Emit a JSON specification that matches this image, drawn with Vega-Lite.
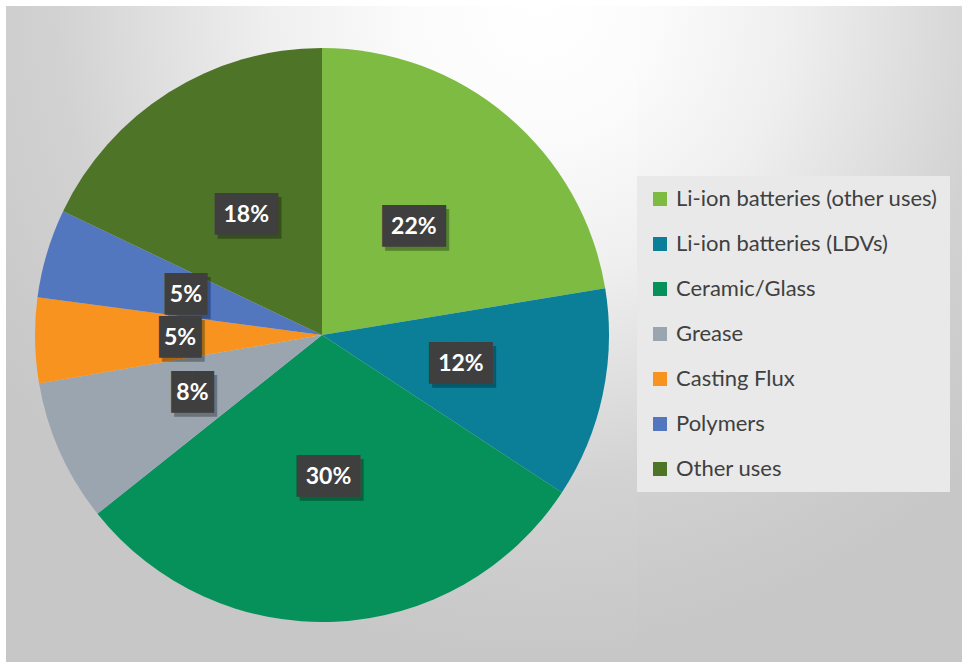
{
  "$schema": "https://vega.github.io/schema/vega-lite/v6.json",
  "padding": {"left": 6, "top": 6, "right": 5, "bottom": 0},
  "background": "#ffffff",
  "spacing": 0,
  "hconcat": [
    {
      "width": 632,
      "height": 658,
      "view": {
        "stroke": null,
        "fill": {"expr": "{gradient: 'radial', x1: 0.829, y1: 0, r1: 0, x2: 0.829, y2: 0, r2: 1, stops: [{offset: 0, color: '#ffffff'}, {offset: 0.2, color: '#fbfbfb'}, {offset: 0.41, color: '#efefef'}, {offset: 0.73, color: '#d2d2d2'}, {offset: 0.94, color: '#c9c9c9'}, {offset: 1, color: '#c7c7c7'}]}"}
      },
      "data": {
        "values": [
          {"use": "Li-ion batteries (other uses)", "share": 0.224},
          {"use": "Li-ion batteries (LDVs)", "share": 0.1185},
          {"use": "Ceramic/Glass", "share": 0.3005},
          {"use": "Grease", "share": 0.08},
          {"use": "Casting Flux", "share": 0.048},
          {"use": "Polymers", "share": 0.05},
          {"use": "Other uses", "share": 0.179}
        ]
      },
      "transform": [{"window": [{"op": "row_number", "as": "rank"}]}],
      "encoding": {
        "theta": {"field": "share", "type": "quantitative", "stack": true},
        "order": {"field": "rank", "type": "quantitative"}
      },
      "layer": [
        {
          "mark": {"type": "arc", "outerRadius": 287},
          "encoding": {
            "color": {
              "field": "use",
              "type": "nominal",
              "sort": null,
              "scale": {
                "domain": ["Li-ion batteries (other uses)", "Li-ion batteries (LDVs)", "Ceramic/Glass", "Grease", "Casting Flux", "Polymers", "Other uses"],
                "range": ["#7dbb42", "#0b7f97", "#06905a", "#9aa5af", "#f7931e", "#5277bf", "#4e7428"]
              },
              "legend": {
                "orient": "none",
                "legendX": 631,
                "legendY": 170,
                "title": null,
                "symbolType": "square",
                "symbolSize": 196,
                "symbolStrokeWidth": 0,
                "labelFont": "Lato",
                "labelFontSize": 22,
                "labelColor": "#404040",
                "labelOffset": 5,
                "labelLimit": 400,
                "rowPadding": 23,
                "padding": 12,
                "fillColor": "#e9e9e9"
              }
            }
          }
        },
        {
          "mark": {"type": "text", "radius": 142, "font": "DejaVu Sans Mono", "fontSize": 35, "color": "#000000", "opacity": 0.3, "dx": 3, "dy": 4},
          "encoding": {
            "text": {"condition": {"test": "datum.share < 0.1", "value": "██"}, "value": "███"}
          }
        },
        {
          "mark": {"type": "text", "radius": 142, "font": "DejaVu Sans Mono", "fontSize": 35, "color": "#3f3f3f"},
          "encoding": {
            "text": {"condition": {"test": "datum.share < 0.1", "value": "██"}, "value": "███"}
          }
        },
        {
          "mark": {"type": "text", "radius": 142, "font": "Lato", "fontWeight": "bold", "fontSize": 23, "color": "#ffffff"},
          "encoding": {
            "text": {"field": "share", "type": "quantitative", "format": ".0%"}
          }
        }
      ]
    },
    {
      "spacing": 0,
      "vconcat": [
        {
          "width": 324,
          "height": 329,
          "view": {
            "stroke": null,
            "fill": {"expr": "{gradient: 'radial', x1: -0.333, y1: 0, r1: 0, x2: -0.333, y2: 0, r2: 1.96, stops: [{offset: 0, color: '#ffffff'}, {offset: 0.2, color: '#fbfbfb'}, {offset: 0.41, color: '#efefef'}, {offset: 0.73, color: '#d2d2d2'}, {offset: 0.94, color: '#c9c9c9'}, {offset: 1, color: '#c7c7c7'}]}"}
          },
          "data": {"values": []},
          "mark": {"type": "text"},
          "encoding": {}
        },
        {
          "width": 324,
          "height": 329,
          "view": {
            "stroke": null,
            "fill": {"expr": "{gradient: 'radial', x1: -0.333, y1: -1, r1: 0, x2: -0.333, y2: -1, r2: 1.96, stops: [{offset: 0, color: '#ffffff'}, {offset: 0.2, color: '#fbfbfb'}, {offset: 0.41, color: '#efefef'}, {offset: 0.73, color: '#d2d2d2'}, {offset: 0.94, color: '#c9c9c9'}, {offset: 1, color: '#c7c7c7'}]}"}
          },
          "data": {"values": []},
          "mark": {"type": "text"},
          "encoding": {}
        }
      ]
    }
  ]
}
